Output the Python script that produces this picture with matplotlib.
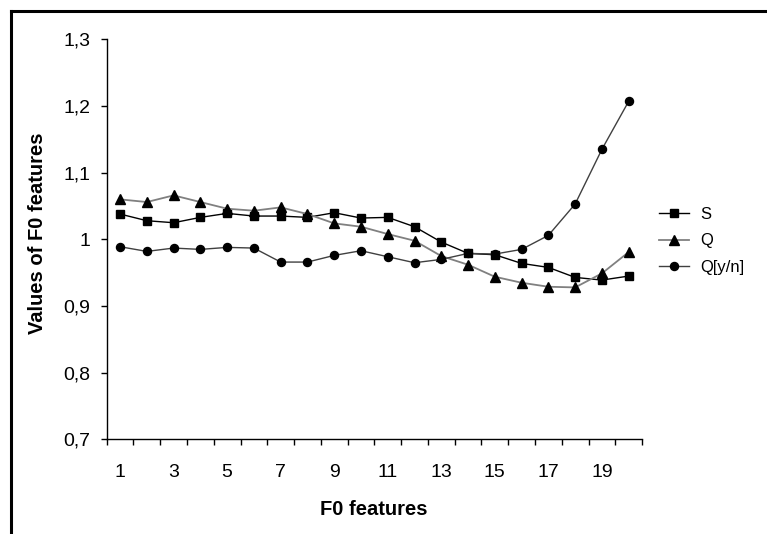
import matplotlib
matplotlib.use('Agg')
import matplotlib.pyplot as plt
from matplotlib.lines import Line2D
from matplotlib.ticker import FixedLocator

plt.rcParams['font.family'] = ['Liberation Sans', 'DejaVu Sans']

# feature index 1..20
features = list(range(1, 21))

s_values = [1.038, 1.028, 1.025, 1.033, 1.039, 1.035, 1.035, 1.033, 1.040, 1.032,
            1.033, 1.019, 0.996, 0.979, 0.977, 0.964, 0.958, 0.943, 0.939, 0.945]
q_values = [1.060, 1.056, 1.066, 1.056, 1.046, 1.043, 1.048, 1.038, 1.024, 1.019,
            1.008, 0.998, 0.975, 0.962, 0.944, 0.935, 0.929, 0.928, 0.949, 0.981]
qyn_values = [0.989, 0.982, 0.987, 0.985, 0.988, 0.987, 0.966, 0.966, 0.976, 0.983,
              0.974, 0.965, 0.970, 0.979, 0.978, 0.985, 1.006, 1.053, 1.135, 1.207]

y_ticks = [0.7, 0.8, 0.9, 1.0, 1.1, 1.2, 1.3]
y_tick_labels = ['0,7', '0,8', '0,9', '1', '1,1', '1,2', '1,3']
x_tick_labels = ['1', '3', '5', '7', '9', '11', '13', '15', '17', '19']

fig = plt.figure(figsize=(7.67, 5.34), dpi=100)
ax = fig.add_axes([0.1391, 0.177, 0.698, 0.7494])

ax.plot(features, s_values, color='black', lw=1.0, marker='s', ms=5.3,
        markerfacecolor='black', markeredgecolor='black', label='S')
ax.plot(features, q_values, color='#808080', lw=1.3, marker='^', ms=7.2,
        markerfacecolor='black', markeredgecolor='black', label='Q')
ax.plot(features, qyn_values, color='#404040', lw=1.0, marker='o', ms=5.8,
        markerfacecolor='black', markeredgecolor='black', label='Q[y/n]')

ax.set_xlim(0.5, 20.5)
ax.set_ylim(0.7, 1.3)
ax.set_yticks(y_ticks)
ax.set_yticklabels(y_tick_labels, fontsize=14)
ax.set_xticks(features[::2])
ax.set_xticklabels(x_tick_labels, fontsize=14)
ax.xaxis.set_minor_locator(FixedLocator([i + 0.5 for i in range(0, 21)]))
ax.tick_params(axis='x', which='major', length=0, pad=18)
ax.tick_params(axis='x', which='minor', length=4.5, width=1, direction='out')
ax.tick_params(axis='y', which='major', length=4, width=1, pad=8)

for side in ['top', 'right']:
    ax.spines[side].set_visible(False)
for side in ['left', 'bottom']:
    ax.spines[side].set_linewidth(1)

ax.set_xlabel('F0 features', fontsize=14.5, fontweight='bold')
ax.set_ylabel('Values of F0 features', fontsize=14.5, fontweight='bold')
ax.xaxis.set_label_coords(0.499, -0.152)
ax.yaxis.set_label_coords(-0.112, 0.516)

fig.legend(loc='center left', bbox_to_anchor=(0.859, 0.549), frameon=False,
           fontsize=12, handlelength=1.8, handletextpad=0.7, labelspacing=0.7,
           borderpad=0, borderaxespad=0)

# border lines on top and left of the picture
fig.add_artist(Line2D([10.5 / 767, 1.0], [1 - 10.5 / 534] * 2, color='black', lw=2.2,
                      transform=fig.transFigure))
fig.add_artist(Line2D([10.5 / 767] * 2, [0.0, 1 - 10.5 / 534], color='black', lw=2.2,
                      transform=fig.transFigure))

fig.savefig('out.png', dpi=100)
